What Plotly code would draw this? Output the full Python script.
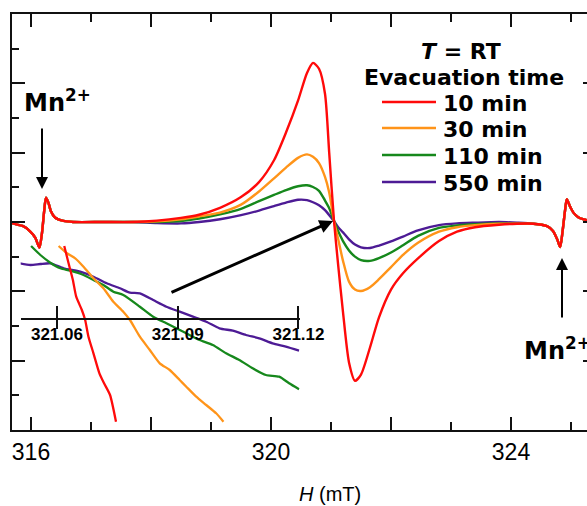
import plotly.graph_objects as go

# ---------------- data ----------------
# field axis (mT), split in three segments; Mn2+ marker lines are common to all spectra
H_low = [315.68, 315.71, 315.87, 315.98, 316.07, 316.14, 316.18, 316.22, 316.25, 316.29,
         316.33, 316.40, 316.54, 316.70, 317.2, 317.7]
mn_low = [-0.02, -0.05, -0.12, -0.26, -0.45, -0.74, -0.36, 0.32, 0.70, 0.56,
          0.32, 0.13, 0.03, 0.0, 0.0, 0.0]

H_mid = [318.1, 318.5, 318.8, 319.15, 319.5, 319.8, 320.05, 320.25, 320.45, 320.6,
         320.7, 320.8, 320.9, 320.97, 321.05, 321.12, 321.2, 321.3, 321.4, 321.5,
         321.65, 321.8, 322.0, 322.2, 322.45, 322.8, 323.1, 323.4, 323.8, 324.1]

H_high = [324.37, 324.6, 324.7, 324.77, 324.82, 324.86, 324.9, 324.93, 324.98, 325.04,
          325.12, 325.2, 325.3]
mn_high = [-0.05, -0.12, -0.26, -0.50, -0.72, -0.26, 0.32, 0.66, 0.46, 0.27,
           0.14, 0.08, 0.04]

red_mid = [0.04, 0.12, 0.21, 0.41, 0.72, 1.15, 1.78, 2.58, 3.5, 4.3,
           4.59, 4.42, 3.7, 2.0, 0.03, -1.25, -2.6, -4.05, -4.58, -4.4,
           -3.62, -2.75, -1.95, -1.48, -1.05, -0.55, -0.28, -0.15, -0.08, -0.05]
orange_mid = [0.02, 0.08, 0.16, 0.27, 0.5, 0.88, 1.26, 1.57, 1.85, 1.95,
              1.88, 1.7, 1.3, 0.85, 0.03, -0.5, -1.12, -1.72, -1.95, -1.99,
              -1.88, -1.65, -1.3, -0.95, -0.6, -0.28, -0.15, -0.09, -0.05, -0.05]
green_mid = [0.0, 0.03, 0.1, 0.22, 0.38, 0.6, 0.78, 0.92, 1.03, 1.06,
             1.01, 0.9, 0.62, 0.4, 0.03, -0.27, -0.55, -0.82, -1.0, -1.1,
             -1.12, -1.04, -0.88, -0.67, -0.4, -0.17, -0.1, -0.06, -0.04, -0.05]
purple_mid = [-0.03, -0.04, 0.0, 0.08, 0.2, 0.33, 0.46, 0.56, 0.64, 0.63,
              0.57, 0.48, 0.34, 0.2, 0.03, -0.15, -0.3, -0.5, -0.65, -0.73,
              -0.75, -0.68, -0.56, -0.42, -0.24, -0.09, -0.04, -0.02, 0.0, -0.02]

labels = ["10 min", "30 min", "110 min", "550 min"]
colors = ["#ff0a0a", "#ff9419", "#16881c", "#4d1b95"]

# inset: magnified view around the crossing point (arbitrary magnified units)
in_red_H = [321.06182, 321.06289, 321.06396, 321.06479, 321.06619, 321.06701, 321.06783,
            321.06907, 321.07055, 321.07171, 321.07319, 321.07467]
in_red_v = [7.3, 5.57, 3.9, 2.23, 0.9, -0.1, -1.77, -3.43, -5.43, -6.43, -7.6, -10.27]
in_orange_H = [321.06042, 321.06248, 321.06454, 321.0666, 321.06907, 321.07154, 321.07401,
               321.07648, 321.07813, 321.0806, 321.08307, 321.08554, 321.08802, 321.09049,
               321.09213, 321.0946, 321.09708, 321.09955, 321.10136]
in_orange_v = [7.3, 6.57, 6.07, 5.23, 4.07, 3.07, 1.73, 0.73, -0.1, -1.77, -3.1, -4.43,
               -5.1, -6.1, -6.77, -7.77, -8.6, -9.43, -10.27]
in_green_H = [321.05358, 321.05589, 321.05836, 321.06083, 321.0633, 321.0666, 321.06907,
              321.07154, 321.07401, 321.07648, 321.0806, 321.0839, 321.08719, 321.09213,
              321.09543, 321.09872, 321.10202, 321.10531, 321.10861, 321.1119, 321.1152,
              321.11767, 321.12014]
in_green_v = [7.3, 6.4, 5.63, 5.07, 4.83, 4.4, 3.9, 3.4, 2.73, 2.4, 1.23, 0.23, -0.43,
              -1.43, -2.1, -2.6, -3.43, -4.1, -4.93, -5.6, -5.77, -6.43, -7.03]
in_purple_H = [321.05078, 321.05342, 321.05589, 321.05836, 321.06166, 321.06578, 321.06907,
               321.07236, 321.07566, 321.07813, 321.0806, 321.0839, 321.08719, 321.09049,
               321.09378, 321.09708, 321.10037, 321.10367, 321.10696, 321.11026, 321.11355,
               321.11685, 321.12014]
in_purple_v = [5.57, 5.4, 5.5, 5.57, 5.07, 4.73, 4.23, 3.57, 3.07, 2.63, 2.57, 1.9, 1.23,
               0.73, 0.23, -0.27, -0.93, -1.17, -1.6, -1.93, -2.43, -2.77, -3.17]

x_ticks = [316, 318, 320, 322, 324]
x_ticktext = ["316", "", "320", "", "324"]
inset_ticks = [321.06, 321.09, 321.12]
inset_ticktext = ["321.06", "321.09", "321.12"]

# ---------------- figure ----------------
W, Hgt = 587, 506
ML, MR, MT, MB = 12, 0, 14, 76
PW, PH = W - ML - MR, Hgt - MT - MB


def px(xp):
    return (xp - ML) / PW


def py(yp):
    return (Hgt - MB - yp) / PH


AX = "#111111"
TXT = "DejaVu Sans, Arial, sans-serif"
ARIAL = "Liberation Sans, Arial, sans-serif"

fig = go.Figure()

mids = [red_mid, orange_mid, green_mid, purple_mid]
H_all = H_low + H_mid + H_high
for i in [3, 2, 1, 0]:
    fig.add_trace(go.Scatter(
        x=H_all, y=mn_low + mids[i] + mn_high, mode="lines", name=labels[i],
        line=dict(color=colors[i], width=2.4, shape="spline", smoothing=0.7),
        showlegend=False, hoverinfo="skip"))

inset = [(in_red_H, in_red_v), (in_orange_H, in_orange_v),
         (in_green_H, in_green_v), (in_purple_H, in_purple_v)]
for i in [3, 2, 1, 0]:
    fig.add_trace(go.Scatter(
        x=inset[i][0], y=inset[i][1], mode="lines", xaxis="x2", yaxis="y2",
        line=dict(color=colors[i], width=2.3, shape="spline", smoothing=0.6),
        showlegend=False, hoverinfo="skip"))

# helper traces for the extra tick axes
fig.add_trace(go.Scatter(x=[None], y=[None], xaxis="x3", yaxis="y2",
                         showlegend=False, hoverinfo="skip"))
fig.add_trace(go.Scatter(x=[None], y=[None], xaxis="x", yaxis="y3",
                         showlegend=False, hoverinfo="skip"))

x0 = 316 + (ML - 31) / 60
x1 = 316 + (W - MR - 31) / 60

inset_pos = py(319)
ix0, ix1 = px(20.7), px(299.7)

fig.update_layout(
    width=W, height=Hgt, autosize=False,
    margin=dict(l=ML, r=MR, t=MT, b=MB, pad=0, autoexpand=False),
    paper_bgcolor="white", plot_bgcolor="rgba(0,0,0,0)",
    xaxis=dict(domain=[0, 1], range=[x0, x1], showline=True, linecolor=AX, linewidth=2,
               mirror="ticks", ticks="inside", ticklen=13, tickwidth=2, tickcolor=AX,
               tickvals=x_ticks, ticktext=x_ticktext,
               tickfont=dict(family=ARIAL, size=23, color="black"),
               minor=dict(dtick=1, tick0=316, ticks="inside", ticklen=8, tickwidth=2,
                          tickcolor=AX, showgrid=False),
               showgrid=False, zeroline=False),
    yaxis=dict(domain=[0, 1], range=[-6, 6], showline=True, linecolor=AX, linewidth=2,
               mirror=False, ticks="inside", ticklen=13, tickwidth=2, tickcolor=AX,
               dtick=2, tick0=0, showticklabels=False,
               minor=dict(dtick=1, tick0=0, ticks="inside", ticklen=7, tickwidth=2,
                          tickcolor=AX, showgrid=False),
               showgrid=False, zeroline=False),
    yaxis3=dict(overlaying="y", side="right", anchor="free", position=1, range=[-6, 6],
                tickvals=[-4, -2, 0, 2, 4], ticks="inside", ticklen=4, tickwidth=2,
                tickcolor=AX, showline=False, showticklabels=False, showgrid=False,
                zeroline=False),
    xaxis2=dict(domain=[ix0, ix1], range=[321.0510, 321.1203], anchor="free",
                position=inset_pos, showline=True, linecolor=AX, linewidth=2,
                ticks="inside", ticklen=12, tickwidth=2, tickcolor=AX,
                tickvals=inset_ticks, ticktext=inset_ticktext,
                tickfont=dict(family=ARIAL, size=17, color="black", weight="bold"),
                showgrid=False, zeroline=False),
    xaxis3=dict(overlaying="x2", range=[321.0510, 321.1203], anchor="free",
                position=inset_pos, showline=False, ticks="outside", ticklen=9,
                tickwidth=2, tickcolor=AX, tickvals=inset_ticks, showticklabels=False,
                showgrid=False, zeroline=False),
    yaxis2=dict(domain=[0, 1], anchor="x2", range=[-11.1, 30.5], visible=False),
)


def hx(pix):
    return 316 + (pix - 31) / 60


def vy(pix):
    return (221 - pix) / 34.7


anns = []
# legend block
anns.append(dict(text="<b><i>T</i> = RT</b>", x=px(461), y=py(51), xref="paper", yref="paper",
                 xanchor="center", yanchor="middle", showarrow=False,
                 font=dict(family=TXT, size=22, color="black")))
anns.append(dict(text="<b>Evacuation time</b>", x=px(464), y=py(77), xref="paper", yref="paper",
                 xanchor="center", yanchor="middle", showarrow=False,
                 font=dict(family=TXT, size=22, color="black")))
rows = [102, 128, 155, 182]
shapes = []
for i, yy in enumerate(rows):
    shapes.append(dict(type="line", xref="paper", yref="paper", x0=px(382), x1=px(436),
                       y0=py(yy), y1=py(yy), line=dict(color=colors[i], width=2.6)))
    anns.append(dict(text="<b>" + labels[i] + "</b>", x=px(441), y=py(yy + 1),
                     xref="paper", yref="paper", xanchor="left", yanchor="middle",
                     showarrow=False, font=dict(family=TXT, size=22, color="black")))

# Mn2+ labels (data-referenced so the clipped one does not push margins)
anns.append(dict(text="<b>Mn<sup>2+</sup></b>", x=hx(22), y=vy(100), xref="x", yref="y",
                 xanchor="left", yanchor="middle", showarrow=False,
                 font=dict(family=TXT, size=24, color="black")))
anns.append(dict(text="<b>Mn<sup>2+</sup></b>", x=hx(522), y=vy(348), xref="x", yref="y",
                 xanchor="left", yanchor="middle", showarrow=False,
                 font=dict(family=TXT, size=24, color="black")))

# arrows
def arrow(xt, yt, xa, ya, w, size):
    return dict(text="", x=xt, y=yt, ax=xa, ay=ya, xref="x", yref="y", axref="x", ayref="y",
                showarrow=True, arrowhead=2, arrowsize=size, arrowwidth=w,
                arrowcolor="black", standoff=0)

anns.append(arrow(hx(42), vy(188), hx(42), vy(126), 2, 1.2))
anns.append(arrow(hx(562), vy(257), hx(562), vy(318), 2, 1.2))
anns.append(arrow(hx(333), vy(220), hx(170), vy(292), 3, 0.9))

# axis title
anns.append(dict(text="<i>H</i> (mT)", x=px(330), y=py(494), xref="paper", yref="paper",
                 xanchor="center", yanchor="middle", showarrow=False,
                 font=dict(family=ARIAL, size=20, color="black")))

fig.update_layout(annotations=anns, shapes=shapes)
fig.write_html(
    "out.html",
    config={"displayModeBar": False},
    post_script="document.body.style.margin='0';document.body.style.padding='0';"
                "document.documentElement.style.overflow='hidden';",
)
